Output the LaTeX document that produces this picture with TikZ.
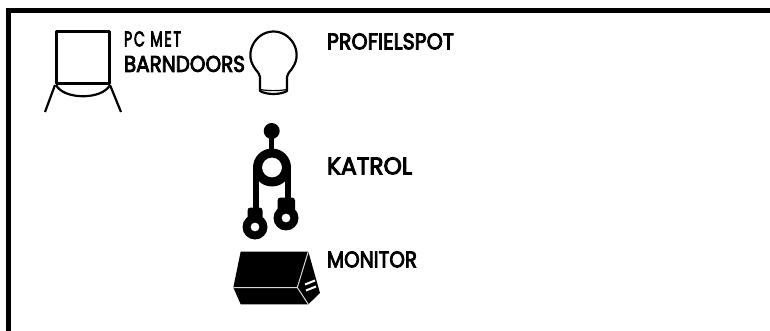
\documentclass[tikz,border=0pt]{standalone}
\usepackage{fontspec}
\setmainfont{Poppins}
\newfontfamily\lblfont[FakeBold=4]{Poppins}
\newfontfamily\widefont[FakeBold=4,LetterSpace=12]{Poppins}
\newcommand{\fit}[3]{\resizebox{#1pt}{#2pt}{\lblfont #3}}
\newcommand{\fitwide}[3]{\resizebox{#1pt}{#2pt}{\widefont #3}}
\tikzset{
  lbl/.style={inner sep=0pt,outer sep=0pt,anchor=south west,text=black},
  icon/.style={draw=black,line width=2.2pt,line join=round,fill=none},
  solid ink/.style={fill=black,draw=none},
  light/.style={draw=white!85!black,line width=1pt},
  frame line/.style={draw=black,line width=5pt}
}
\begin{document}
\begin{tikzpicture}[x=1pt,y=-1pt]
\useasboundingbox (0,0) rectangle (770,331);
\fill[white] (0,0) rectangle (770,331);
% frame
\coordinate (fa) at (8.5,331);
\coordinate (fb) at (8.5,10.5);
\coordinate (fc) at (770,10.5);
\draw[frame line,line join=miter] (fa) -- (fb) -- (fc);
% PC with barndoors
\draw[icon] (56.5,31.5) rectangle (109.5,83.5);
\draw[icon] (56,85) .. controls (64,100) and (102,100) .. (110,85);
\draw[icon] (55,85) -- (45,112);
\draw[icon] (110,85) -- (121,112);
% Profile spot
\draw[icon] (260,77) .. controls (259,72) and (256,71) .. (254,67)
  .. controls (244,52) and (256,31.5) .. (273.5,31.5)
  .. controls (291,31.5) and (303,52) .. (293,67)
  .. controls (291,71) and (288,72) .. (287,77)
  -- (287,91) .. controls (280,95) and (267,95) .. (260,91) -- cycle;
\draw[line width=1.2pt] (260,89.5) .. controls (268,91) and (279,91) .. (287,89.5);
% Pulley
\fill[solid ink] (271.7,131) circle (8);
\fill[solid ink] (269.2,135) rectangle (274.2,152);
\fill[solid ink] (253,166) rectangle (259,210);
\fill[solid ink] (285,166) rectangle (291,200);
\fill[solid ink,even odd rule] (272,167.5) circle (19) (272,167.5) circle (10);
\fill[solid ink,rounded corners=3pt] (247.5,207.5) rectangle (262.5,222);
\fill[solid ink,rounded corners=3pt] (277.5,197.5) rectangle (295,212);
\fill[solid ink,even odd rule] (255,227) circle (12.5) (255,227) circle (4.5);
\fill[solid ink,even odd rule] (286,218) circle (12.5) (286,218) circle (4.5);
% Monitor
\fill[solid ink] (240.7,251.5) -- (308.3,251.5) -- (320,293) -- (308.3,304.3) -- (240.7,304.3) -- (233.3,287.5) -- cycle;
\draw[light] (233.3,287.5) -- (297.3,287.5) -- (308.3,251.5);
\draw[light] (297.3,287.5) -- (308.3,304.3);
\draw[white,line width=2pt] (305,284.5) -- (315,280.5);
\draw[white,line width=2pt] (306,290.5) -- (316,286.5);
% Labels
\node[lbl] (pcmet) at (124,46.5) {\fitwide{57}{15}{PC MET}};
\node[lbl] (barn) at (124,72) {\fit{121}{16}{BARNDOORS}};
\node[lbl] (prof) at (327,49.5) {\fit{127}{16}{PROFIELSPOT}};
\node[lbl] (katrol) at (327,174.5) {\fit{85}{17}{KATROL}};
\node[lbl] (monitor) at (327,267.5) {\fit{90}{16}{MONITOR}};
\end{tikzpicture}
\end{document}
